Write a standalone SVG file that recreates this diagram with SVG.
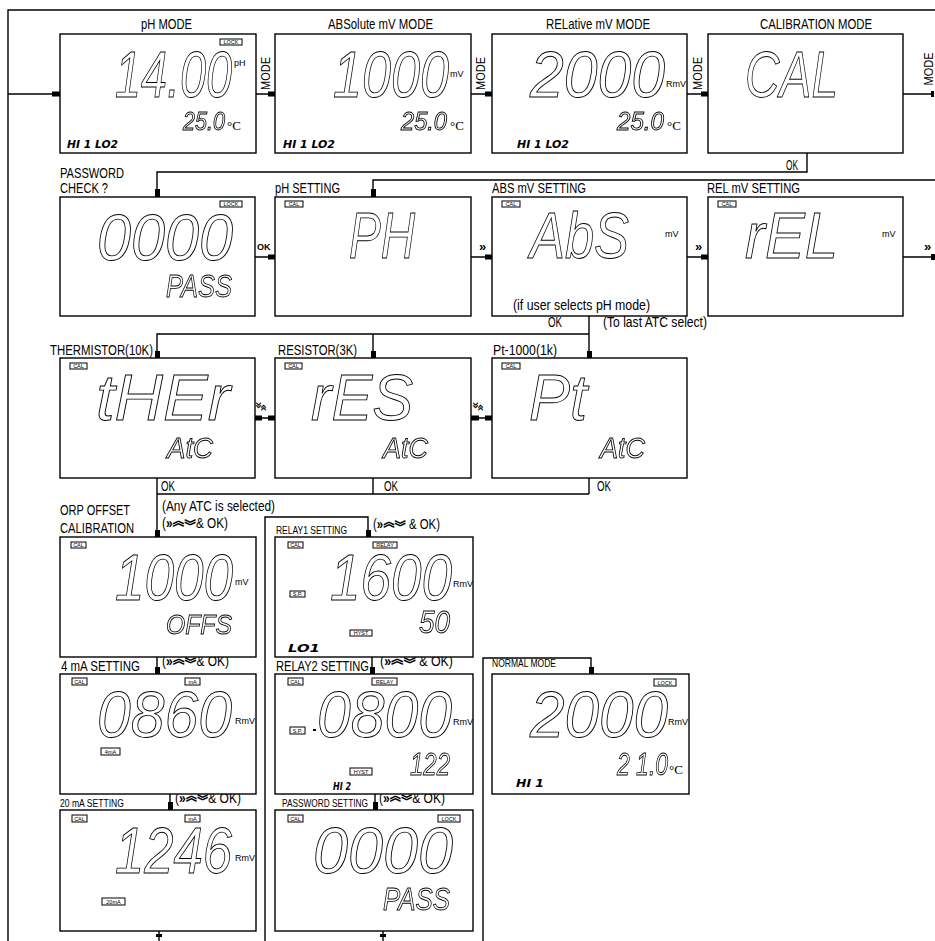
<svg xmlns="http://www.w3.org/2000/svg" width="935" height="941" viewBox="0 0 935 941">
<defs>
<filter id="gs" x="-5%" y="-5%" width="110%" height="110%"><feOffset dx="0" dy="0"/></filter>
</defs>
<style>
.bx{fill:#fff;stroke:#000;stroke-width:1.4}
.ln{fill:none;stroke:#000;stroke-width:1.4}
.mk{fill:#000}
.t{font-family:"Liberation Sans Narrow","Liberation Sans",Arial,sans-serif;fill:#000}
.lb{font-size:14px}
.sm{font-size:11px}
.sg{font-family:"Liberation Sans",Arial,sans-serif;font-style:italic;fill:none;stroke:#000;stroke-width:0.9;filter:url(#gs)}
.g1{font-size:65px}
.g3{font-size:25px}
.bi{font-family:"DejaVu Sans",sans-serif;font-weight:bold;font-style:italic;font-size:10px}
.tg{fill:#fff;stroke:#000;stroke-width:1}
.tt{font-family:"Liberation Sans",Arial,sans-serif;font-size:5.5px;text-anchor:middle}
.un{font-family:"Liberation Sans",Arial,sans-serif;font-size:9px}
.dc{font-family:"Liberation Serif",serif;font-size:13px}
.ok{font-family:"Liberation Sans",Arial,sans-serif;font-weight:bold;font-size:9px}
.ch{font-family:"Liberation Sans",Arial,sans-serif;font-weight:bold;font-size:13px}
.cj{font-family:"Noto Sans CJK SC",sans-serif;font-weight:900;font-size:14px}
</style>

<g id="connectors">
<path class="ln" d="M8 941V10H935"/>
<path class="ln" d="M8 94H60"/>
<path class="ln" d="M256 94H275M471 94H492M687 94H708M903 94H933"/>
<path class="ln" d="M807 153V172H157V197"/>
<path class="ln" d="M935 180H373V197"/>
<path class="ln" d="M255 257H275M471 257H492M687 257H708M903 257H935"/>
<path class="ln" d="M589 316V358M157 358V334H589M373 334V358"/>
<path class="ln" d="M255 418H275M471 418H492"/>
<path class="ln" d="M157 478V537M157 494H589M373 478V494M589 478V494"/>
<path class="ln" d="M265 941V517H368V537"/>
<path class="ln" d="M157 657V674M372 657V674"/>
<path class="ln" d="M483 941V658H591V674"/>
<path class="ln" d="M170 794V810M375 794V810"/>
<path class="ln" d="M159 931V941M383 931V941"/>
<rect class="mk" x="52" y="91.5" width="8" height="5"/>
<rect class="mk" x="268" y="91.5" width="7" height="5"/>
<rect class="mk" x="485" y="91.5" width="7" height="5"/>
<rect class="mk" x="701" y="91.5" width="7" height="5"/>
<rect class="mk" x="931" y="91" width="3" height="6"/>
<rect class="mk" x="155" y="189" width="5" height="8"/>
<rect class="mk" x="371" y="189" width="5" height="8"/>
<rect class="mk" x="268" y="254.5" width="7" height="5"/>
<rect class="mk" x="485" y="254.5" width="7" height="5"/>
<rect class="mk" x="701" y="254.5" width="7" height="5"/>
<rect class="mk" x="931" y="254" width="4" height="6"/>
<rect class="mk" x="155" y="351" width="5" height="7"/>
<rect class="mk" x="371" y="351" width="5" height="7"/>
<rect class="mk" x="587" y="351" width="5" height="7"/>
<rect class="mk" x="255" y="415.5" width="7" height="5"/>
<rect class="mk" x="268" y="415.5" width="7" height="5"/>
<rect class="mk" x="471" y="415.5" width="8" height="5"/>
<rect class="mk" x="485" y="415.5" width="7" height="5"/>
<rect class="mk" x="155" y="530" width="5" height="7"/>
<rect class="mk" x="366" y="530" width="5" height="7"/>
<rect class="mk" x="155" y="667" width="5" height="7"/>
<rect class="mk" x="370" y="667" width="5" height="7"/>
<rect class="mk" x="589" y="667" width="5" height="7"/>
<rect class="mk" x="168" y="802" width="5" height="8"/>
<rect class="mk" x="373" y="802" width="5" height="8"/>
<rect class="mk" x="156" y="934" width="6" height="3"/>
<rect class="mk" x="380" y="934" width="6" height="3"/>
<text class="t" font-size="13" transform="translate(270,73.5) rotate(-90)" text-anchor="middle" textLength="33" lengthAdjust="spacingAndGlyphs">MODE</text>
<text class="t" font-size="13" transform="translate(485,73.5) rotate(-90)" text-anchor="middle" textLength="33" lengthAdjust="spacingAndGlyphs">MODE</text>
<text class="t" font-size="13" transform="translate(702,73.5) rotate(-90)" text-anchor="middle" textLength="33" lengthAdjust="spacingAndGlyphs">MODE</text>
<text class="t" font-size="12" transform="translate(933,69) rotate(-90)" text-anchor="middle" textLength="33" lengthAdjust="spacingAndGlyphs">MODE</text>
<text class="t lb" x="786" y="170" textLength="12" lengthAdjust="spacingAndGlyphs">OK</text>
<text class="ok" x="257" y="250">OK</text>
<text class="ch" x="479" y="251">»</text>
<text class="ch" x="695" y="251">»</text>
<text class="ch" x="924" y="251">»</text>
<text class="t lb" x="548" y="327" textLength="14" lengthAdjust="spacingAndGlyphs">OK</text>
<text class="t lb" x="603" y="327" textLength="104" lengthAdjust="spacingAndGlyphs">(To last ATC select)</text>
<text class="cj" x="256" y="411" font-size="11" textLength="10" lengthAdjust="spacingAndGlyphs"><tspan y="414">︾</tspan><tspan y="409">︽</tspan></text>
<text class="cj" x="473" y="411" font-size="11" textLength="10" lengthAdjust="spacingAndGlyphs"><tspan y="414">︾</tspan><tspan y="409">︽</tspan></text>
<text class="t lb" x="161" y="491" textLength="14" lengthAdjust="spacingAndGlyphs">OK</text>
<text class="t lb" x="384" y="491" textLength="14" lengthAdjust="spacingAndGlyphs">OK</text>
<text class="t lb" x="597" y="491" textLength="14" lengthAdjust="spacingAndGlyphs">OK</text>
<text class="t lb" x="162" y="511" textLength="113" lengthAdjust="spacingAndGlyphs">(Any ATC is selected)</text>
<text class="t lb" x="162" y="528" textLength="66" lengthAdjust="spacingAndGlyphs">(<tspan font-weight="bold">»</tspan><tspan class="cj" y="525">︽</tspan><tspan class="cj" y="531">︾</tspan><tspan y="528">&amp; OK)</tspan></text>
<text class="t lb" x="373" y="529" textLength="67" lengthAdjust="spacingAndGlyphs">(<tspan font-weight="bold">»</tspan><tspan class="cj" y="526">︽</tspan><tspan class="cj" y="532">︾</tspan><tspan y="529"> &amp; OK)</tspan></text>
<text class="t lb" x="162" y="666" textLength="67" lengthAdjust="spacingAndGlyphs">(<tspan font-weight="bold">»</tspan><tspan class="cj" y="663">︽</tspan><tspan class="cj" y="669">︾</tspan><tspan y="666">&amp; OK)</tspan></text>
<text class="t lb" x="380" y="666" textLength="73" lengthAdjust="spacingAndGlyphs">(<tspan font-weight="bold">»</tspan><tspan class="cj" y="663">︽</tspan><tspan class="cj" y="669">︾</tspan><tspan y="666">  &amp; OK)</tspan></text>
<text class="t" font-size="15" x="175" y="803" textLength="66" lengthAdjust="spacingAndGlyphs">(<tspan font-weight="bold">»</tspan><tspan class="cj" y="800">︽</tspan><tspan class="cj" y="806">︾</tspan><tspan y="803">&amp; OK)</tspan></text>
<text class="t" font-size="15" x="379" y="803" textLength="66" lengthAdjust="spacingAndGlyphs">(<tspan font-weight="bold">»</tspan><tspan class="cj" y="800">︽</tspan><tspan class="cj" y="806">︾</tspan><tspan y="803">&amp; OK)</tspan></text>
</g>

<g id="ph-mode">
<text class="t lb" x="141" y="29" textLength="51" lengthAdjust="spacingAndGlyphs">pH MODE</text>
<rect class="bx" x="60" y="34" width="196" height="119"/>
<rect class="tg" x="220" y="39" width="22" height="6"/><text class="tt" x="231" y="44.3">LOCK</text>
<text class="sg g1" x="115" y="97" textLength="117" lengthAdjust="spacingAndGlyphs">14.00</text>
<text class="un" x="234" y="66">pH</text>
<text class="sg g3" x="183" y="130" textLength="42" lengthAdjust="spacingAndGlyphs">25.0</text>
<text class="dc" x="227" y="130">°C</text>
<text class="bi" x="67" y="148" textLength="51" lengthAdjust="spacingAndGlyphs">HI 1 LO2</text>
</g>

<g id="abs-mode">
<text class="t lb" x="328" y="29" textLength="105" lengthAdjust="spacingAndGlyphs">ABSolute mV MODE</text>
<rect class="bx" x="275" y="34" width="196" height="119"/>
<text class="sg g1" x="333" y="97" textLength="116" lengthAdjust="spacingAndGlyphs">1000</text>
<text class="un" x="450" y="77">mV</text>
<text class="sg g3" x="401" y="130" textLength="46" lengthAdjust="spacingAndGlyphs">25.0</text>
<text class="dc" x="450" y="130">°C</text>
<text class="bi" x="283" y="148" textLength="52" lengthAdjust="spacingAndGlyphs">HI 1 LO2</text>
</g>

<g id="rel-mode">
<text class="t lb" x="546" y="29" textLength="104" lengthAdjust="spacingAndGlyphs">RELative mV MODE</text>
<rect class="bx" x="492" y="34" width="195" height="119"/>
<text class="sg g1" x="530" y="97" textLength="135" lengthAdjust="spacingAndGlyphs">2000</text>
<text class="un" x="666" y="87">RmV</text>
<text class="sg g3" x="617" y="130" textLength="47" lengthAdjust="spacingAndGlyphs">25.0</text>
<text class="dc" x="667" y="130">°C</text>
<text class="bi" x="517" y="148" textLength="52" lengthAdjust="spacingAndGlyphs">HI 1 LO2</text>
</g>

<g id="cal-mode">
<text class="t lb" x="760" y="29" textLength="112" lengthAdjust="spacingAndGlyphs">CALIBRATION MODE</text>
<rect class="bx" x="708" y="34" width="195" height="119"/>
<text class="sg g1" x="745" y="97" textLength="93" lengthAdjust="spacingAndGlyphs">CAL</text>
</g>

<g id="password-check">
<text class="t lb" x="60" y="178" textLength="64" lengthAdjust="spacingAndGlyphs">PASSWORD</text>
<text class="t lb" x="60" y="193" textLength="48" lengthAdjust="spacingAndGlyphs">CHECK ?</text>
<rect class="bx" x="60" y="197" width="195" height="119"/>
<rect class="tg" x="220" y="201" width="22" height="6"/><text class="tt" x="231" y="206.3">LOCK</text>
<text class="sg g1" x="97" y="260" textLength="136" lengthAdjust="spacingAndGlyphs">0000</text>
<text class="sg" font-size="32" x="166" y="297" textLength="66" lengthAdjust="spacingAndGlyphs">PASS</text>
</g>

<g id="ph-setting">
<text class="t lb" x="275" y="193" textLength="65" lengthAdjust="spacingAndGlyphs">pH SETTING</text>
<rect class="bx" x="275" y="197" width="196" height="119"/>
<rect class="tg" x="285" y="201" width="18" height="6"/><text class="tt" x="294" y="206.3">CAL</text>
<text class="sg g1" x="349" y="258" textLength="66" lengthAdjust="spacingAndGlyphs">PH</text>
</g>

<g id="abs-setting">
<text class="t lb" x="492" y="193" textLength="94" lengthAdjust="spacingAndGlyphs">ABS mV SETTING</text>
<rect class="bx" x="492" y="197" width="195" height="119"/>
<rect class="tg" x="502" y="201" width="18" height="6"/><text class="tt" x="511" y="206.3">CAL</text>
<text class="sg g1" x="530" y="258" textLength="99" lengthAdjust="spacingAndGlyphs">AbS</text>
<text class="un" x="665" y="237">mV</text>
<text class="t lb" x="513" y="310" textLength="137" lengthAdjust="spacingAndGlyphs">(if user selects pH mode)</text>
</g>

<g id="rel-setting">
<text class="t lb" x="707" y="193" textLength="93" lengthAdjust="spacingAndGlyphs">REL mV SETTING</text>
<rect class="bx" x="708" y="197" width="195" height="119"/>
<rect class="tg" x="718" y="201" width="18" height="6"/><text class="tt" x="727" y="206.3">CAL</text>
<text class="sg g1" x="745" y="258" textLength="93" lengthAdjust="spacingAndGlyphs">rEL</text>
<text class="un" x="882" y="237">mV</text>
</g>

<g id="thermistor">
<text class="t lb" x="50" y="355" textLength="103" lengthAdjust="spacingAndGlyphs">THERMISTOR(10K)</text>
<rect class="bx" x="60" y="358" width="195" height="120"/>
<rect class="tg" x="70" y="363" width="17" height="6"/><text class="tt" x="78.5" y="368.3">CAL</text>
<text class="sg g1" x="96" y="420" textLength="134" lengthAdjust="spacingAndGlyphs">tHEr</text>
<text class="sg" font-size="29" x="167" y="458" textLength="46" lengthAdjust="spacingAndGlyphs">AtC</text>
</g>

<g id="resistor">
<text class="t lb" x="278" y="355" textLength="79" lengthAdjust="spacingAndGlyphs">RESISTOR(3K)</text>
<rect class="bx" x="275" y="358" width="196" height="120"/>
<rect class="tg" x="285" y="363" width="17" height="6"/><text class="tt" x="293.5" y="368.3">CAL</text>
<text class="sg g1" x="311" y="420" textLength="102" lengthAdjust="spacingAndGlyphs">rES</text>
<text class="sg" font-size="29" x="383" y="458" textLength="45" lengthAdjust="spacingAndGlyphs">AtC</text>
</g>

<g id="pt1000">
<text class="t lb" x="493" y="355" textLength="64" lengthAdjust="spacingAndGlyphs">Pt-1000(1k)</text>
<rect class="bx" x="492" y="358" width="195" height="120"/>
<rect class="tg" x="502" y="363" width="18" height="6"/><text class="tt" x="511" y="368.3">CAL</text>
<text class="sg g1" x="529" y="420" textLength="58" lengthAdjust="spacingAndGlyphs">Pt</text>
<text class="sg" font-size="29" x="600" y="458" textLength="45" lengthAdjust="spacingAndGlyphs">AtC</text>
</g>

<g id="orp-offset">
<text class="t lb" x="60" y="515" textLength="70" lengthAdjust="spacingAndGlyphs">ORP  OFFSET</text>
<text class="t lb" x="60" y="533" textLength="74" lengthAdjust="spacingAndGlyphs">CALIBRATION</text>
<rect class="bx" x="60" y="537" width="196" height="120"/>
<rect class="tg" x="71" y="542" width="15" height="6"/><text class="tt" x="78.5" y="547" font-size="5">CAL</text>
<text class="sg g1" x="115" y="600" textLength="118" lengthAdjust="spacingAndGlyphs">1000</text>
<text class="un" x="235" y="585" font-size="6">mV</text>
<text class="sg" font-size="28" x="166" y="634" textLength="66" lengthAdjust="spacingAndGlyphs">OFFS</text>
</g>

<g id="relay1">
<text class="t sm" x="276" y="534" textLength="71" lengthAdjust="spacingAndGlyphs">RELAY1 SETTING</text>
<rect class="bx" x="275" y="537" width="198" height="120"/>
<rect class="tg" x="288" y="542" width="15" height="6"/><text class="tt" x="295.5" y="547" font-size="5">CAL</text>
<rect class="tg" x="373" y="542" width="24" height="6"/><text class="tt" x="385" y="547" font-size="5">RELAY</text>
<text class="sg g1" x="330" y="600" textLength="122" lengthAdjust="spacingAndGlyphs">1600</text>
<text class="un" x="453" y="587" font-size="6">RmV</text>
<rect class="tg" x="290" y="591" width="15" height="6"/><text class="tt" x="297.5" y="596" font-size="5">S.P.</text>
<text class="sg" font-size="32" x="419" y="633" textLength="31" lengthAdjust="spacingAndGlyphs">50</text>
<rect class="tg" x="350" y="630" width="22" height="6"/><text class="tt" x="361" y="635" font-size="5">HYST</text>
<text class="bi" x="288" y="652" font-size="11" textLength="32" lengthAdjust="spacingAndGlyphs">LO1</text>
</g>

<g id="ma4-setting">
<text class="t lb" x="61" y="671" textLength="79" lengthAdjust="spacingAndGlyphs">4 mA SETTING</text>
<rect class="bx" x="60" y="674" width="196" height="120"/>
<rect class="tg" x="72" y="678" width="15" height="7"/><text class="tt" x="79.5" y="683.5" font-size="5">CAL</text>
<rect class="tg" x="185" y="678" width="15" height="7"/><text class="tt" x="192.5" y="683.5" font-size="5.5">mA</text>
<text class="sg g1" x="97" y="737" textLength="135" lengthAdjust="spacingAndGlyphs">0860</text>
<text class="un" x="235" y="724" font-size="6">RmV</text>
<rect class="tg" x="101" y="748" width="19" height="7"/><text class="tt" x="110.5" y="753.5" font-size="5.5">4mA</text>
</g>

<g id="relay2">
<text class="t lb" x="276" y="671" textLength="93" lengthAdjust="spacingAndGlyphs">RELAY2 SETTING</text>
<rect class="bx" x="275" y="674" width="198" height="120"/>
<rect class="tg" x="288" y="678" width="15" height="7"/><text class="tt" x="295.5" y="683.5" font-size="5">CAL</text>
<rect class="tg" x="372" y="678" width="25" height="7"/><text class="tt" x="384.5" y="683.5" font-size="5">RELAY</text>
<rect class="mk" x="313" y="729" width="3" height="2"/>
<text class="sg g1" x="317" y="737" textLength="135" lengthAdjust="spacingAndGlyphs">0800</text>
<text class="un" x="453" y="725" font-size="6">RmV</text>
<rect class="tg" x="290" y="727" width="15" height="7"/><text class="tt" x="297.5" y="732.5" font-size="5">S.P.</text>
<text class="sg" font-size="32" x="410" y="775" textLength="40" lengthAdjust="spacingAndGlyphs">122</text>
<rect class="tg" x="350" y="768" width="22" height="7"/><text class="tt" x="361" y="773.5" font-size="5">HYST</text>
<text class="bi" x="333" y="790" font-size="11" textLength="18" lengthAdjust="spacingAndGlyphs">HI 2</text>
</g>

<g id="normal-mode">
<text class="t sm" x="492" y="667" textLength="64" lengthAdjust="spacingAndGlyphs">NORMAL MODE</text>
<rect class="bx" x="492" y="674" width="197" height="120"/>
<rect class="tg" x="654" y="679" width="22" height="7"/><text class="tt" x="665" y="684.5" font-size="5.5">LOCK</text>
<text class="sg g1" x="530" y="737" textLength="138" lengthAdjust="spacingAndGlyphs">2000</text>
<text class="un" x="668" y="725" font-size="6">RmV</text>
<text class="sg" font-size="32" x="617" y="775" textLength="51" lengthAdjust="spacingAndGlyphs">2 1.0</text>
<text class="dc" x="669" y="774" font-size="12">°C</text>
<text class="bi" x="516" y="787" textLength="28" lengthAdjust="spacingAndGlyphs">HI 1</text>
</g>

<g id="ma20-setting">
<text class="t sm" x="60" y="807" textLength="64" lengthAdjust="spacingAndGlyphs">20 mA SETTING</text>
<rect class="bx" x="60" y="810" width="196" height="121"/>
<rect class="tg" x="72" y="815" width="15" height="7"/><text class="tt" x="79.5" y="820.5" font-size="5">CAL</text>
<rect class="tg" x="185" y="815" width="15" height="7"/><text class="tt" x="192.5" y="820.5" font-size="5.5">mA</text>
<text class="sg g1" x="115" y="873" textLength="117" lengthAdjust="spacingAndGlyphs">1246</text>
<text class="un" x="235" y="861" font-size="6">RmV</text>
<rect class="tg" x="102" y="898" width="23" height="7"/><text class="tt" x="113.5" y="903.5" font-size="5.5">20mA</text>
</g>

<g id="password-setting">
<text class="t sm" x="282" y="807" textLength="86" lengthAdjust="spacingAndGlyphs">PASSWORD SETTING</text>
<rect class="bx" x="275" y="810" width="198" height="121"/>
<rect class="tg" x="288" y="815" width="15" height="7"/><text class="tt" x="295.5" y="820.5" font-size="5">CAL</text>
<rect class="tg" x="438" y="815" width="22" height="7"/><text class="tt" x="449" y="820.5" font-size="5.5">LOCK</text>
<text class="sg g1" x="313" y="873" textLength="140" lengthAdjust="spacingAndGlyphs">0000</text>
<text class="sg" font-size="32" x="383" y="910" textLength="67" lengthAdjust="spacingAndGlyphs">PASS</text>
</g>
</svg>
